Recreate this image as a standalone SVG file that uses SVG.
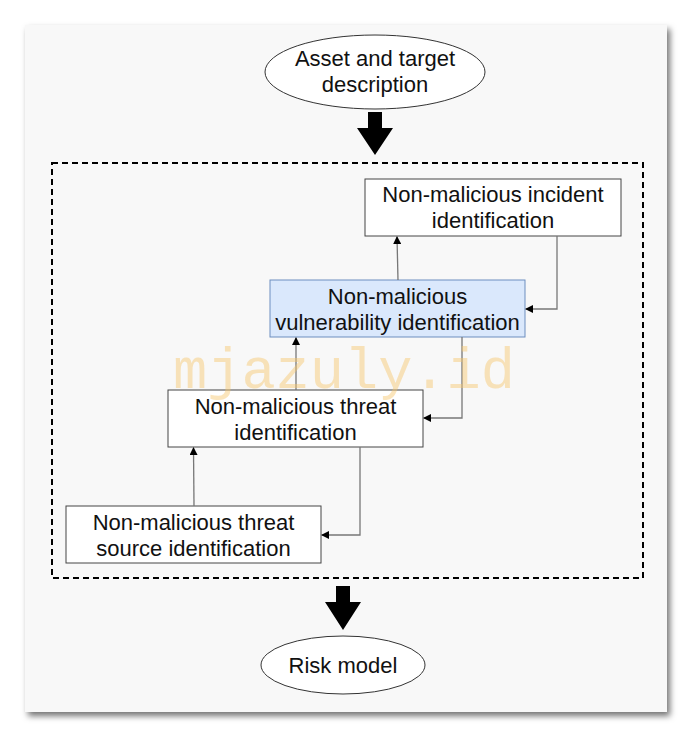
<svg xmlns="http://www.w3.org/2000/svg" width="692" height="737" viewBox="0 0 692 737">
<defs>
<filter id="sh" x="-5%" y="-5%" width="112%" height="112%">
<feDropShadow dx="3" dy="4" stdDeviation="3" flood-color="#000" flood-opacity="0.55"/>
</filter>
<marker id="ah" markerWidth="8" markerHeight="8" refX="7" refY="4" orient="auto" markerUnits="userSpaceOnUse">
<path d="M0,0 L8,4 L0,8 Z" fill="#000"/>
</marker>
<style>
.t{font-family:"Liberation Sans",Arial,sans-serif;font-size:22px;fill:#111;text-anchor:middle}
.box{fill:#fff;stroke:#444;stroke-width:1}
.blue{fill:#dae8fc;stroke:#6c8ebf;stroke-width:1}
.ell{fill:#fff;stroke:#333;stroke-width:1}
.c{fill:none;stroke:#777;stroke-width:1.3;marker-end:url(#ah)}
.big{fill:#000}
</style>
</defs>
<rect x="0" y="0" width="692" height="737" fill="#fff"/>
<rect x="25" y="25" width="642" height="687" fill="#f8f8f8" filter="url(#sh)"/>
<rect x="52" y="163" width="591" height="415" fill="none" stroke="#000" stroke-width="2" stroke-dasharray="6,4"/>
<g id="asset">
<ellipse class="ell" cx="375" cy="72" rx="110" ry="37"/>
<text class="t" x="375" y="66">Asset and target</text>
<text class="t" x="375" y="92">description</text>
</g>
<g id="bigarrows">
<path class="big" d="M368,112 H382 V128 H393 L375,155 L357,128 H368 Z"/>
<path class="big" d="M336,586 H350 V602 H361 L343,630 L325,602 H336 Z"/>
</g>
<g id="incident">
<rect class="box" x="365" y="179" width="256" height="57"/>
<text class="t" x="493" y="202">Non-malicious incident</text>
<text class="t" x="493" y="228">identification</text>
</g>
<g id="vulnerability">
<rect class="blue" x="270" y="280" width="255" height="57"/>
<text class="t" x="397.5" y="304">Non-malicious</text>
<text class="t" x="397.5" y="330">vulnerability identification</text>
</g>
<g id="threat">
<rect class="box" x="168" y="390" width="255" height="57"/>
<text class="t" x="295.5" y="414">Non-malicious threat</text>
<text class="t" x="295.5" y="440">identification</text>
</g>
<g id="source">
<rect class="box" x="66" y="506" width="255" height="57"/>
<text class="t" x="193.5" y="530">Non-malicious threat</text>
<text class="t" x="193.5" y="556">source identification</text>
</g>
<g id="risk">
<ellipse class="ell" cx="343" cy="665" rx="82" ry="29"/>
<text class="t" x="343" y="673">Risk model</text>
</g>
<g id="connectors">
<path class="c" d="M398,280 L397,237"/>
<path class="c" d="M557,236 V309 H526"/>
<path class="c" d="M296,390 V338"/>
<path class="c" d="M462,337 V418 H424"/>
<path class="c" d="M194,506 L193.5,448"/>
<path class="c" d="M360,447 V535 H322"/>
</g>
<text x="344" y="388" font-family="'Liberation Mono','DejaVu Sans Mono',monospace" font-size="57" fill="#f7c66b" fill-opacity="0.45" text-anchor="middle">mjazuly.id</text>
</svg>
